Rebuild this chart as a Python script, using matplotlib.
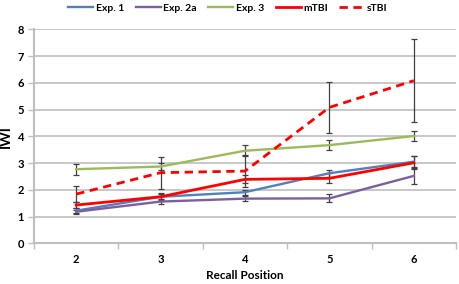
import matplotlib
matplotlib.use("Agg")
import matplotlib.pyplot as plt
import numpy as np

positions = [2, 3, 4, 5, 6]
exp1 = [1.22, 1.74, 1.91, 2.62, 3.05]
exp1_err = [0.10, 0.12, 0.10, 0.13, 0.20]
exp2a = [1.18, 1.56, 1.67, 1.68, 2.52]
exp2a_err = [0.08, 0.10, 0.10, 0.15, 0.30]
exp3 = [2.77, 2.87, 3.46, 3.67, 4.01]
exp3_err = [0.20, 0.12, 0.20, 0.20, 0.17]
mtbi = [1.43, 1.74, 2.39, 2.43, 3.01]
mtbi_err = [0.12, 0.14, 0.15, 0.19, 0.24]
stbi = [1.84, 2.64, 2.70, 5.08, 6.08]
stbi_err = [0.31, 0.60, 0.60, 0.95, 1.55]

labels = ["Exp. 1", "Exp. 2a", "Exp. 3", "mTBI", "sTBI"]

plt.rcParams['font.family'] = ['Lato', 'DejaVu Sans']

fig = plt.figure(figsize=(4.59, 2.84), dpi=100)
ax = fig.add_axes([34/459, 1-243.3/284, (456-34)/459, (243.3-29.3)/284])

grid_c = '#bfbfbf'
err_c = '#404040'
for v in range(1, 9):
    ax.axhline(v, color=grid_c, lw=1.2, zorder=0)

series = [
    (exp1, exp1_err, '#4F81BD', '-', 1.7),
    (exp2a, exp2a_err, '#7D5FA0', '-', 1.7),
    (exp3, exp3_err, '#9BBB59', '-', 1.7),
    (mtbi, mtbi_err, '#FF0000', '-', 2.0),
    (stbi, stbi_err, '#FF0000', (0, (3, 2)), 2.0),
]
handles = []
for (vals, err, c, ls, lw), lab in zip(series, labels):
    ax.errorbar(positions, vals, yerr=err, fmt='none', ecolor=err_c, elinewidth=0.9,
                capsize=2, capthick=0.9, zorder=2)
    h, = ax.plot(positions, vals, color=c, ls=ls, lw=lw, label=lab, zorder=3)
    handles.append(h)

ax.set_xlim(1.5, 6.5)
ax.set_ylim(0, 8)
ax.set_yticks(range(0, 9))
ax.set_xticks(positions)
ax.set_xticks(np.arange(1.5, 6.6, 1.0), minor=True)
ax.tick_params(axis='x', which='major', length=0, pad=8, labelsize=8)
ax.tick_params(axis='x', which='minor', length=4, color=grid_c, width=1.0)
ax.tick_params(axis='y', length=4, color=grid_c, width=1.0, labelsize=8, pad=3)
for lab in ax.get_xticklabels() + ax.get_yticklabels():
    lab.set_fontweight('bold')

for s in ['top', 'right']:
    ax.spines[s].set_visible(False)
ax.spines['left'].set_color(grid_c)
ax.spines['left'].set_linewidth(1.5)
ax.spines['bottom'].set_color(grid_c)
ax.spines['bottom'].set_linewidth(1.5)

ax.set_xlabel("Recall Position", fontsize=8.5, fontweight='bold', labelpad=3)
ax.set_ylabel("IWI", fontsize=10, fontweight='bold', labelpad=4)

leg = fig.legend(handles=handles, loc='center', bbox_to_anchor=(228/459, 1-8/284), ncol=5,
                 frameon=False, prop={'weight': 'bold', 'size': 7.5}, handlelength=2.4,
                 handletextpad=0.25, columnspacing=1.1)

fig.savefig("out.png", dpi=100)
